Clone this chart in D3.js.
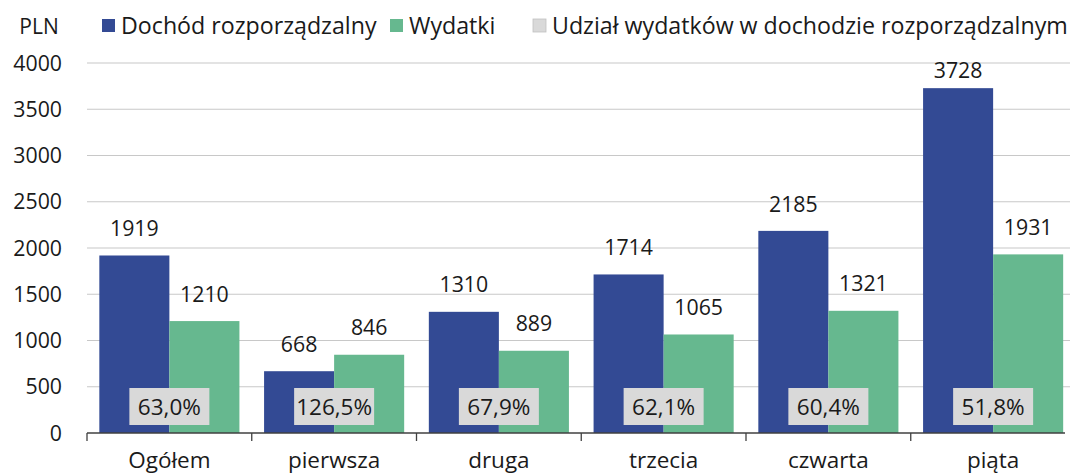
<!DOCTYPE html>
<html><head><meta charset="utf-8">
<script src="https://cdn.jsdelivr.net/npm/d3@7"></script>
<style>body{margin:0;background:#fff}svg{display:block}text{font-family:"Open Sans","Noto Sans",sans-serif;fill:#1a1a1a}</style>
</head><body>
<svg id="c" width="1070" height="474"></svg>
<script>
const categories = ["Ogółem","pierwsza","druga","trzecia","czwarta","piąta"];
const dochod = [1919,668,1310,1714,2185,3728];
const wydatki = [1210,846,889,1065,1321,1931];
const udzial = ["63,0%","126,5%","67,9%","62,1%","60,4%","51,8%"];
const yTicks = [0,500,1000,1500,2000,2500,3000,3500,4000];
const seriesNames = ["Dochód rozporządzalny","Wydatki","Udział wydatków w dochodzie rozporządzalnym"];
const colors = ["#334a94","#66b88f","#d9d9d9"];

const svg = d3.select("#c");
const x = d3.scaleBand().domain(categories).range([87,1075.5]).paddingInner(0).paddingOuter(0);
const y = d3.scaleLinear().domain([0,4000]).range([433,63]);
const inner = d3.scaleBand().domain([0,1]).range([0,x.bandwidth()]).paddingInner(0).paddingOuter(0.176);

// gridlines
svg.append("g").selectAll("line").data(yTicks.filter(d=>d>0)).join("line")
  .attr("x1",87).attr("x2",1070).attr("y1",d=>y(d)).attr("y2",d=>y(d))
  .attr("stroke","#c8c8c8").attr("stroke-width",1.2);

// y labels
svg.append("g").selectAll("text").data(yTicks).join("text")
  .attr("x",62).attr("y",d=>y(d)).attr("dy","0.36em").attr("text-anchor","end")
  .attr("font-size",21.3).text(d=>d);
svg.append("text").attr("x",39).attr("y",26).attr("dy","0.36em").attr("text-anchor","middle").attr("font-size",21).text("PLN");

const g = svg.append("g").selectAll("g").data(categories).join("g")
  .attr("transform",d=>`translate(${x(d)},0)`);
const vals = [dochod, wydatki];
[0,1].forEach(s=>{
  g.append("rect")
    .attr("x",inner(s)).attr("width",inner.bandwidth())
    .attr("y",(d,i)=>y(vals[s][i])).attr("height",(d,i)=>y(0)-y(vals[s][i]))
    .attr("fill",colors[s]);
  g.append("text")
    .attr("x",inner(s)+inner.bandwidth()/2).attr("y",(d,i)=>Math.max(y(vals[s][i])-27, 70))
    .attr("dy","0.36em").attr("text-anchor","middle").attr("font-size",21.3)
    .text((d,i)=>vals[s][i]);
});
// percentage boxes
g.append("rect").attr("x",x.bandwidth()/2-40).attr("width",80).attr("y",388).attr("height",37).attr("fill",colors[2]);
g.append("text").attr("x",x.bandwidth()/2).attr("y",407).attr("dy","0.36em").attr("text-anchor","middle").attr("font-size",22.5).text((d,i)=>udzial[i]);

// x axis
const xa = svg.append("g").attr("transform","translate(0,433)");
xa.append("line").attr("x1",87).attr("x2",1065).attr("stroke","#404040").attr("stroke-width",1.3);
xa.selectAll("line.t").data(d3.range(categories.length)).join("line").attr("class","t")
  .attr("x1",i=>87+i*x.bandwidth()).attr("x2",i=>87+i*x.bandwidth()).attr("y1",0).attr("y2",8)
  .attr("stroke","#404040").attr("stroke-width",1.3);
xa.selectAll("text").data(categories).join("text")
  .attr("x",d=>x(d)+x.bandwidth()/2).attr("y",34.5).attr("text-anchor","middle").attr("font-size",22.5).text(d=>d);

// legend
const legX = [102,390,533];
const lg = svg.append("g").selectAll("g").data(seriesNames).join("g").attr("transform",(d,i)=>`translate(${legX[i]},19)`);
lg.append("rect").attr("width",13).attr("height",13).attr("fill",(d,i)=>colors[i]).attr("stroke",(d,i)=>i==2?"#c0c0c0":"none").attr("stroke-width",0.8);
lg.append("text").attr("x",19).attr("y",7).attr("dy","0.36em").attr("font-size",23.2).text(d=>d);
</script>
</body></html>
